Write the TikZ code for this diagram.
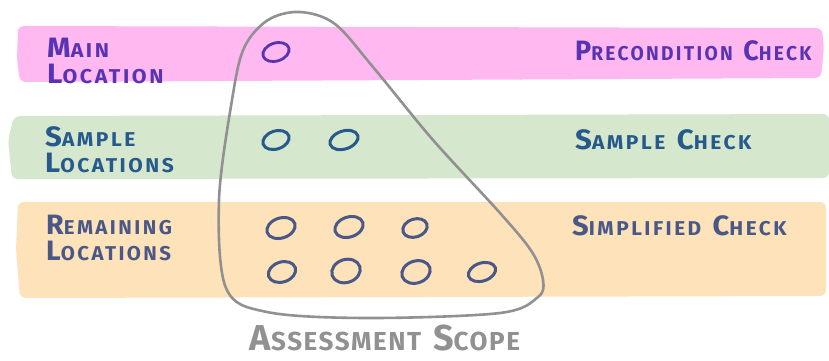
\documentclass[tikz,border=0pt]{standalone}
\usepackage{fontspec}
\setmainfont{Fira Sans}
\usetikzlibrary{shapes.geometric}

% colours of the three rows
\definecolor{pinkband}{RGB}{255,184,240}
\definecolor{greenband}{RGB}{213,232,206}
\definecolor{orangeband}{RGB}{253,226,186}
\definecolor{purpleink}{RGB}{88,52,178}
\definecolor{blueink}{RGB}{38,90,140}
\definecolor{slateink}{RGB}{74,88,135}
\definecolor{scopegray}{RGB}{145,145,145}

% hand-lettered small caps: a big first letter, the rest smaller and spaced out
\newcommand{\bigsmall}[2]{{\fontsize{28}{26}\selectfont #1}{\fontsize{20}{26}\selectfont\addfontfeature{LetterSpace=12}#2}}
\newcommand{\gap}{\hspace{11pt}}

\begin{document}
\begin{tikzpicture}[x=1pt,y=-1pt,
  band/.style={line width=0pt, rounded corners=6pt},
  rowlabel/.style={anchor=base west, inner sep=0pt, font=\bfseries\fontsize{20}{26}\selectfont, align=left},
  checklabel/.style={anchor=base west, inner sep=0pt, font=\bfseries},
  loc/.style={ellipse, draw, line width=3pt, minimum width=27pt, minimum height=18pt, inner sep=0pt, rotate=18},
]
\useasboundingbox (0,0) rectangle (829,360);

% marker bands
\fill[pinkband, band] (18,26) -- (822,28) -- (824,48) -- (821,78) -- (20,82) -- (17,60) -- cycle;
\fill[greenband, band] (14,116) -- (829,114) -- (829,178) -- (12,179) -- (8,140) -- cycle;
\fill[orangeband, band] (18,202) -- (826,202) -- (826,296) -- (20,298) -- (16,250) -- cycle;

% row names (anchored on the baseline of their second line)
\node[rowlabel, text=purpleink, xscale=1.07] (mainname) at (47,83) {\bigsmall{M}{AIN}\\\bigsmall{L}{OCATION}};
\node[rowlabel, text=blueink, xscale=1.05] (samplename) at (45,172) {\bigsmall{S}{AMPLE}\\\bigsmall{L}{OCATIONS}};
\node[rowlabel, text=slateink, xscale=1.02] (remainname) at (46,260) {\bigsmall{R}{EMAINING}\\\bigsmall{L}{OCATIONS}};

% checks applied to each row
\node[checklabel, text=purpleink, xscale=0.96] (precheck) at (575,60) {\bigsmall{P}{RECONDITION}\gap\bigsmall{C}{HECK}};
\node[checklabel, text=blueink, xscale=1.05] (samplecheck) at (575,149) {\bigsmall{S}{AMPLE}\gap\bigsmall{C}{HECK}};
\node[checklabel, text=slateink, xscale=1.04] (simplecheck) at (572,235) {\bigsmall{S}{IMPLIFIED}\gap\bigsmall{C}{HECK}};

% locations
\node[loc, draw=purpleink, line width=2.8pt] (m1) at (276,52) {};
\node[loc, draw=blueink] (s1) at (276,140) {};
\node[loc, draw=blueink, minimum width=29pt] (s2) at (344,140) {};
\node[loc, draw=slateink, minimum width=29pt, minimum height=20pt] (r1) at (281,228) {};
\node[loc, draw=slateink, minimum width=29pt, minimum height=20pt] (r2) at (349,227) {};
\node[loc, draw=slateink, minimum width=25pt, minimum height=18pt] (r3) at (415,228) {};
\node[loc, draw=slateink, minimum width=28pt, minimum height=20pt] (r4) at (282,272) {};
\node[loc, draw=slateink, minimum width=29pt, minimum height=23pt] (r5) at (346,271) {};
\node[loc, draw=slateink, minimum width=29pt, minimum height=22pt] (r6) at (416,272) {};
\node[loc, draw=slateink, minimum width=28pt, minimum height=18pt] (r7) at (482,272) {};

% assessment scope outline
\draw[scopegray, line width=2.6pt, line join=round]
  plot[smooth cycle, tension=0.55] coordinates {
    (300,12) (335,24) (373,67) (433,140) (500,213) (532,252) (543,280)
    (538,297) (500,313) (367,318) (267,312) (226,288) (219,200) (232,100) (244,48) (268,20)};

\node[anchor=base, inner sep=0pt, text depth=0pt, font=\bfseries, text=scopegray] (scope) at (385,350)
  {{\fontsize{36}{36}\selectfont A}{\fontsize{26}{26}\selectfont\addfontfeature{LetterSpace=6}SSESSMENT}\hspace{12pt}{\fontsize{36}{36}\selectfont S}{\fontsize{26}{26}\selectfont\addfontfeature{LetterSpace=6}COPE}};
\end{tikzpicture}
\end{document}
